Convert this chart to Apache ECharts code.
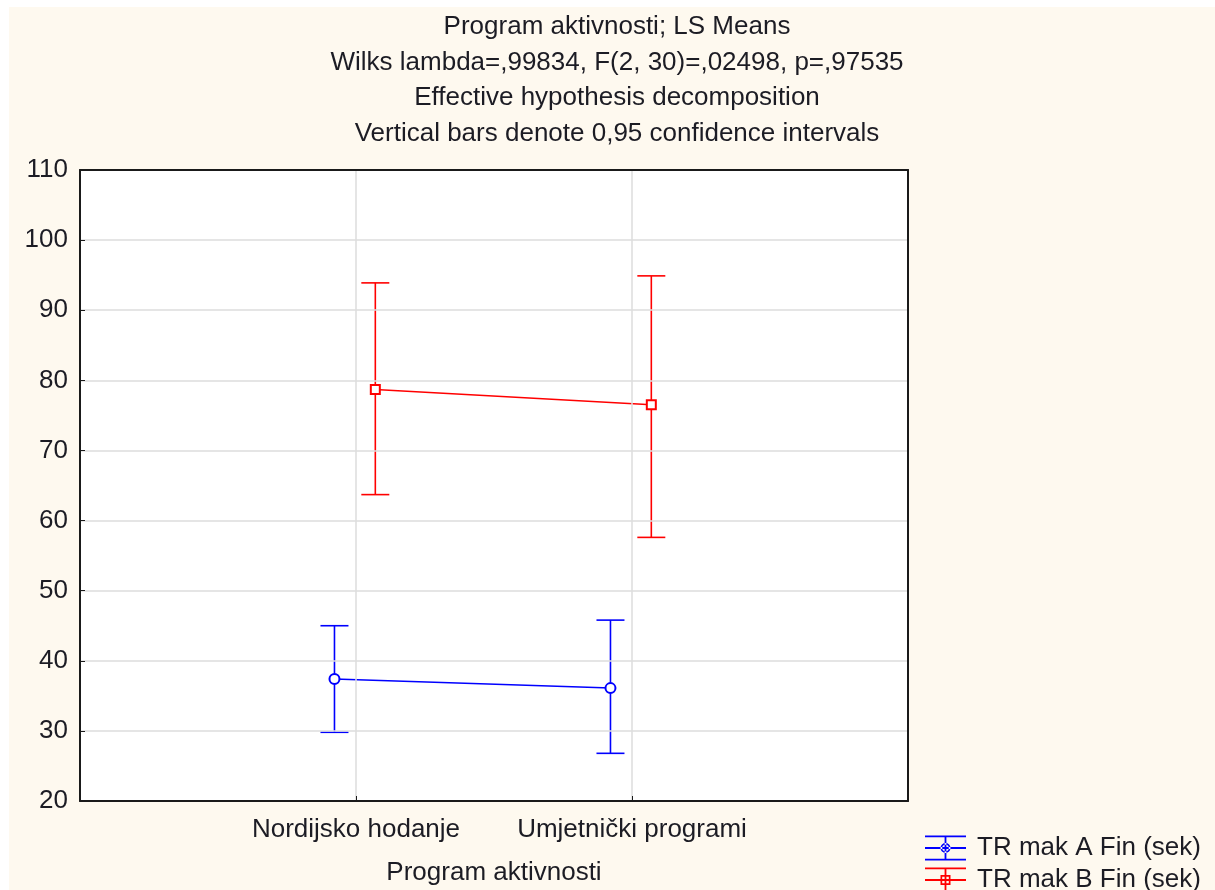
<!DOCTYPE html>
<html>
<head>
<meta charset="utf-8">
<script src="https://cdn.jsdelivr.net/npm/echarts@6/dist/echarts.min.js"></script>
<style>
html,body{margin:0;padding:0;background:#ffffff;overflow:hidden;}
#chart{width:1215px;height:890px;}
</style>
</head>
<body>
<div id="chart"></div>
<script>
// ---- data ----
const titleLines = [
  'Program aktivnosti; LS Means',
  'Wilks lambda=,99834, F(2, 30)=,02498, p=,97535',
  'Effective hypothesis decomposition',
  'Vertical bars denote 0,95 confidence intervals'
];
const categories = ['Nordijsko hodanje', 'Umjetnički programi'];
const xAxisName = 'Program aktivnosti';
const seriesNames = ['TR mak A Fin (sek)', 'TR mak B Fin (sek)'];
const meanA = [37.4, 36.1];
const lowA  = [29.8, 26.8];
const highA = [45.0, 45.8];
const meanB = [78.7, 76.5];
const lowB  = [63.7, 57.6];
const highB = [93.9, 94.9];
const yTicks = [20, 30, 40, 50, 60, 70, 80, 90, 100, 110];

// ---- layout helpers ----
const OFFSET_A = -0.078, OFFSET_B = 0.07;
const font = 'Liberation Sans, Arial, sans-serif';
const FS = 26;
const TXT = '#1c1c24';
const BORDER = '#1a1a1a';
const BLUE = '#0000ff', RED = '#ff0000';

function pts(mean, off) { return mean.map((v, i) => [i + 1 + off, v]); }
function bars(lo, hi, off) { return lo.map((v, i) => [i + 1 + off, v, hi[i]]); }

function errRender(color) {
  return function (params, api) {
    const x = api.value(0);
    const p1 = api.coord([x, api.value(1)]);
    const p2 = api.coord([x, api.value(2)]);
    const hw = 14;
    const st = { stroke: color, lineWidth: 1.6 };
    return {
      type: 'group',
      children: [
        { type: 'line', shape: { x1: p1[0], y1: p1[1], x2: p2[0], y2: p2[1] }, style: st },
        { type: 'line', shape: { x1: p1[0] - hw, y1: p1[1], x2: p1[0] + hw, y2: p1[1] }, style: st },
        { type: 'line', shape: { x1: p2[0] - hw, y1: p2[1], x2: p2[0] + hw, y2: p2[1] }, style: st }
      ]
    };
  };
}

// legend glyphs (error-bar symbol), padded on the right to add icon-text gap
const glyphBase = 'M0 0H41V1.8H0Z M0 11.6H41V13.4H0Z M0 23.2H41V25H0Z M19.6 0H21.4V25H19.6Z M46.9 12.4H47V12.5H46.9Z';
const glyphCircle = 'M25.5 12.5A5 5 0 1 0 15.5 12.5A5 5 0 1 0 25.5 12.5Z M23.8 12.5A3.3 3.3 0 1 1 17.2 12.5A3.3 3.3 0 1 1 23.8 12.5Z';
const glyphSquare = 'M15.5 7.5H25.5V17.5H15.5Z M17.2 9.2V15.8H23.8V9.2Z';

const frameAxis = { show: true, onZero: false, lineStyle: { color: BORDER, width: 2 } };

const chart = echarts.init(document.getElementById('chart'), null, { renderer: 'canvas' });
chart.setOption({
  backgroundColor: '#ffffff',
  animation: false,
  graphic: [{
    type: 'rect', z: -10, silent: true,
    shape: { x: 9, y: 7, width: 1206, height: 883 },
    style: { fill: '#fef9ef' }
  }],
  title: {
    text: titleLines.join('\n'),
    left: 612, top: 4, textAlign: 'center',
    textStyle: { fontFamily: font, fontSize: FS, fontWeight: 'normal', color: TXT, lineHeight: 35.7 }
  },
  grid: {
    left: 80, top: 170, right: 307, bottom: 89,
    containLabel: false, outerBoundsMode: 'none',
    show: true, backgroundColor: '#ffffff', borderWidth: 0
  },
  xAxis: [{
    type: 'value', min: 0, max: 3, interval: 1, position: 'bottom', z: 6,
    name: xAxisName, nameLocation: 'middle', nameGap: 59,
    nameTextStyle: { fontFamily: font, fontSize: FS, color: TXT },
    axisLine: frameAxis,
    axisTick: { show: true, inside: true, length: 5, lineStyle: { color: BORDER } },
    axisLabel: {
      margin: 16, fontFamily: font, fontSize: FS, color: TXT,
      formatter: v => (v >= 1 && v <= categories.length ? categories[v - 1] : '')
    },
    splitLine: { show: true, lineStyle: { color: '#dcdcdc', width: 1.5 } }
  }, {
    type: 'value', min: 0, max: 3, interval: 1, position: 'top', z: 10,
    axisLine: frameAxis, axisTick: { show: false }, axisLabel: { show: false }, splitLine: { show: false }
  }],
  yAxis: [{
    type: 'value', min: yTicks[0], max: yTicks[yTicks.length - 1], interval: 10, position: 'left', z: 6,
    axisLine: frameAxis,
    axisTick: { show: true, inside: true, length: 5, lineStyle: { color: BORDER } },
    axisLabel: { margin: 12, fontFamily: font, fontSize: FS, color: TXT },
    splitLine: { show: true, lineStyle: { color: '#dcdcdc', width: 1.5 } }
  }, {
    type: 'value', min: yTicks[0], max: yTicks[yTicks.length - 1], interval: 10, position: 'right', z: 10,
    axisLine: frameAxis, axisTick: { show: false }, axisLabel: { show: false }, splitLine: { show: false }
  }],
  legend: {
    orient: 'vertical', left: 925, top: 835, height: 200, padding: 0,
    itemWidth: 47, itemHeight: 25, itemGap: 6,
    textStyle: { fontFamily: font, fontSize: FS, color: TXT },
    itemStyle: { borderWidth: 0 },
    data: [
      { name: seriesNames[0], icon: 'path://' + glyphBase + ' ' + glyphCircle, itemStyle: { color: BLUE, borderWidth: 0 } },
      { name: seriesNames[1], icon: 'path://' + glyphBase + ' ' + glyphSquare, itemStyle: { color: RED, borderWidth: 0 } }
    ]
  },
  series: [
    {
      name: seriesNames[0], type: 'line', data: pts(meanA, OFFSET_A),
      symbol: 'emptyCircle', symbolSize: 10,
      lineStyle: { color: BLUE, width: 1.5 },
      itemStyle: { color: BLUE, borderWidth: 1.5 }, z: 3
    },
    {
      name: seriesNames[0], type: 'custom', data: bars(lowA, highA, OFFSET_A),
      renderItem: errRender(BLUE), encode: { x: 0, y: [1, 2] }, z: 2
    },
    {
      name: seriesNames[1], type: 'line', data: pts(meanB, OFFSET_B),
      symbol: 'emptyRect', symbolSize: 9,
      lineStyle: { color: RED, width: 1.5 },
      itemStyle: { color: RED, borderWidth: 1.5 }, z: 3
    },
    {
      name: seriesNames[1], type: 'custom', data: bars(lowB, highB, OFFSET_B),
      renderItem: errRender(RED), encode: { x: 0, y: [1, 2] }, z: 2
    }
  ]
});
</script>
</body>
</html>
